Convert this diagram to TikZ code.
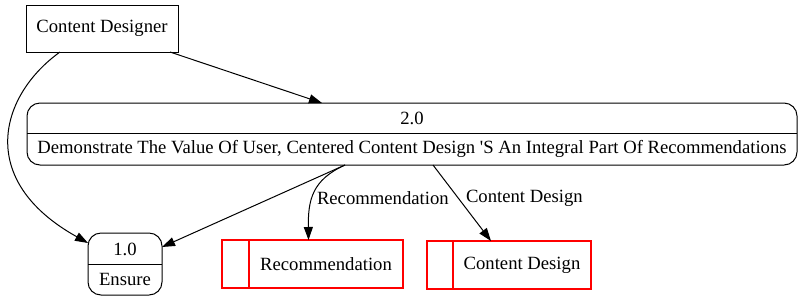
\documentclass[tikz,border=0pt]{standalone}
\usepackage{fontspec}
\setmainfont{Liberation Serif}
\newfontfamily\dfdfont{Liberation Serif}
\usetikzlibrary{arrows.meta,calc}
\definecolor{storered}{RGB}{255,0,0}
\begin{document}
\begin{tikzpicture}[x=1pt,y=-1pt,
  font=\dfdfont\fontsize{18.67}{22}\selectfont,
  every node/.style={inner sep=0pt, outer sep=0pt},
  ext/.style={draw, line width=1pt, minimum width=152pt, minimum height=47pt},
  proc/.style={draw, line width=1pt, rounded corners=13pt},
  store/.style={minimum height=48pt},
  storeline/.style={draw=storered, line width=1.2pt},
  flow/.style={line width=1pt, -{Triangle[length=13pt,width=9pt]}},
  lbl/.style={anchor=west}]
\useasboundingbox (0,0) rectangle (802,301);

% external entity
\node[ext] (cd) at (102,28.5) {Content Designer};

% process 2.0
\node[proc, minimum width=770pt, minimum height=62pt] (p2) at (412,134) {};
\node (p2id) at (412,118) {2.0};
\node (p2name) at (412,148.5) {Demonstrate The Value Of User, Centered Content Design 'S An Integral Part Of Recommendations};
\coordinate (d2) at (0,133);
\draw[line width=1pt] (p2.west |- d2) -- (p2.east |- d2);

% process 1.0
\node[proc, minimum width=74pt, minimum height=62pt] (p1) at (125,264) {};
\node (p1id) at (125,249) {1.0};
\node (p1name) at (125,279.5) {Ensure};
\coordinate (d1) at (0,264);
\draw[line width=1pt] (p1.west |- d1) -- (p1.east |- d1);

% data stores: outline and the narrow left compartment
\node[store, minimum width=181pt] (rec) at (312.5,264) {};
\node[store, minimum width=164pt] (cds) at (509,265) {};
\coordinate (r1) at (249,0);
\coordinate (c1) at (453,0);
\draw[storeline] (rec.north west) rectangle (rec.south east)
  (rec.north -| r1) -- (rec.south -| r1);
\draw[storeline] (cds.north west) rectangle (cds.south east)
  (cds.north -| c1) -- (cds.south -| c1);
\node (rectext) at (326,264) {Recommendation};
\node (cdstext) at (522,265) {Content Design};

% flows
\draw[flow] ($(cd.south east)+(-8,0)$) -- ($(p2.north)+(-90,0)$);
\draw[flow] ($(cd.south west)+(34,0)$) .. controls (0,95) and (-25,180) .. ($(p1.north west)+(0,10)$);
\draw[flow] ($(p2.south west)+(318,0)$) -- ($(p1.north east)+(0,14)$);
\draw[flow] ($(p2.south west)+(318,0)$) .. controls (312,180) and (308,200) .. ($(rec.north)+(-4,0)$);
\node[lbl] (l1) at (317,198) {Recommendation};
\draw[flow] ($(p2.south west)+(406,0)$) -- ($(cds.north)+(-18,0)$);
\node[lbl] (l2) at (466,198) {Content Design};
\end{tikzpicture}
\end{document}
